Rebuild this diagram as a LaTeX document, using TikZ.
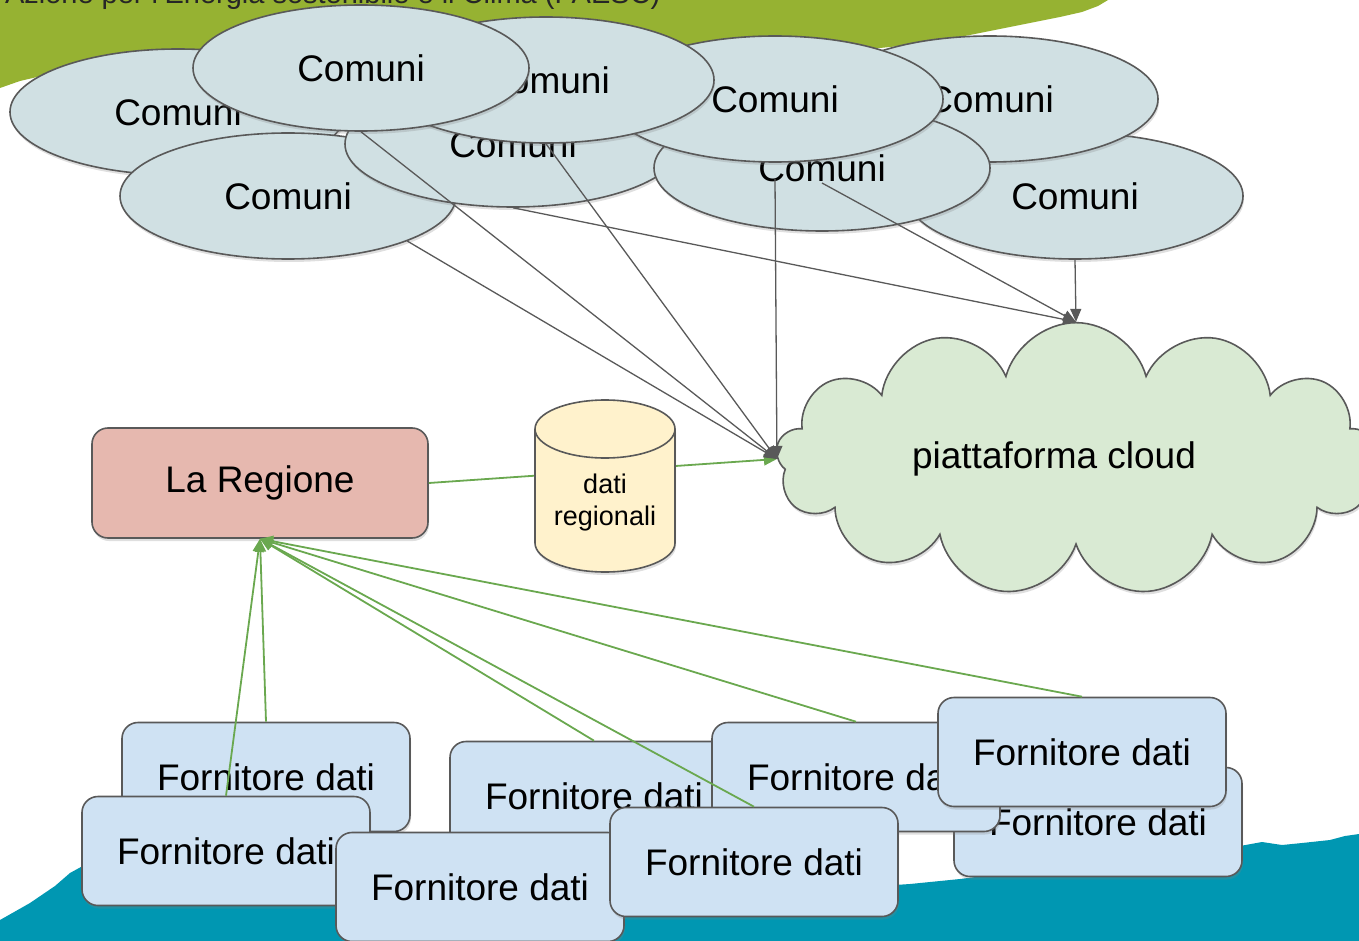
\documentclass[tikz,border=0pt]{standalone}
\usepackage{fontspec}
\setmainfont{Liberation Sans}
\usetikzlibrary{shapes.geometric,shapes.symbols,shadows,arrows.meta}
\definecolor{linegray}{HTML}{595959}
\definecolor{comunifill}{HTML}{D0E0E3}
\definecolor{cloudfill}{HTML}{D9EAD3}
\definecolor{regionefill}{HTML}{E6B8AF}
\definecolor{dbfill}{HTML}{FFF2CC}
\definecolor{fornfill}{HTML}{CFE2F3}
\definecolor{arrowgreen}{HTML}{6AA84F}
\definecolor{bggreen}{HTML}{96B232}
\definecolor{bgteal}{HTML}{0097B2}
\tikzset{
% Shapes: the comuni, the data suppliers, the region and the cloud
soft shadow/.style={drop shadow={shadow xshift=1pt,shadow yshift=-3pt,opacity=.25}},
comuni/.style={ellipse,draw=linegray,line width=1.6pt,fill=comunifill,minimum width=336pt,minimum height=126pt,inner sep=0,font=\fontsize{37}{44}\selectfont,soft shadow},
fornitore/.style={rectangle,rounded corners=16pt,draw=linegray,line width=1.6pt,fill=fornfill,minimum width=288pt,minimum height=109pt,font=\fontsize{37}{44}\selectfont,soft shadow},
regione/.style={rectangle,rounded corners=16pt,draw=linegray,line width=1.6pt,fill=regionefill,minimum width=336pt,minimum height=110pt,font=\fontsize{37}{44}\selectfont,soft shadow},
piattaforma/.style={cloud,cloud puffs=13,cloud puff arc=150,aspect=2.4,draw=linegray,line width=1.6pt,fill=cloudfill,minimum width=600pt,minimum height=222pt,inner sep=0,font=\fontsize{37}{44}\selectfont,soft shadow},
% Two connector styles: dark and green
dark arrow/.style={draw=linegray,line width=1.3pt,-{Triangle[length=13pt,width=11pt]}},
green arrow/.style={draw=arrowgreen,line width=1.8pt,-{Triangle[length=13pt,width=11pt]}}
}

\begin{document}
\begin{tikzpicture}[x=1pt,y=-1pt]
\useasboundingbox (0,0) rectangle (1359,941);
% Background
\fill[bggreen] (0,0) -- (1108,0) -- (1098,6) -- (1082,12) -- (1060,17) -- (1040,21) -- (1010,27)
  -- (985,32) -- (960,37) -- (920,44) -- (880,48) -- (800,56) -- (500,62) -- (200,64)
  -- (100,68) -- (50,74) -- (20,81) -- (0,88) -- cycle;
\fill[bgteal] (0,941) -- (0,920) -- (30,903) -- (55,886) -- (70,873) -- (90,862) -- (300,852)
  -- (600,862) -- (880,886) -- (910,884) -- (940,881) -- (960,879) -- (1100,861) -- (1200,851)
  -- (1240,846) -- (1262,842) -- (1282,845) -- (1302,843) -- (1330,840) -- (1345,836)
  -- (1359,834) -- (1359,941) -- cycle;
\node(titolo)[anchor=base east,font=\fontsize{29}{34}\selectfont,text=black!85] at (664,4)
  {Azione per l’Energia sostenibile e il Clima (PAESC)};
% The Comuni
\node(e1)[comuni] at (178,112) {Comuni};
\node(e9)[comuni] at (288,196) {Comuni};
\node(e4)[comuni] at (513,144) {Comuni};
\node(e8)[comuni] at (1075,196) {Comuni};
\node(e7)[comuni] at (990,99) {Comuni};
\node(e6)[comuni] at (822,168) {Comuni};
\node(e5)[comuni] at (775,99) {Comuni};
\node(e3)[comuni] at (546,80) {Comuni};
\node(e2)[comuni] at (361,68) {Comuni};
% The data suppliers
\node(f1)[fornitore] at (266,777) {Fornitore dati};
\node(f2)[fornitore] at (226,851) {Fornitore dati};
\node(f3)[fornitore] at (594,796) {Fornitore dati};
\node(f4)[fornitore] at (480,887) {Fornitore dati};
\node(f7)[fornitore] at (1098,822) {Fornitore dati};
\node(f5)[fornitore] at (856,777) {Fornitore dati};
\node(f6)[fornitore] at (754,862) {Fornitore dati};
\node(f8)[fornitore] at (1082,752) {Fornitore dati};
% Region and cloud
\node(regione)[regione] at (260,483) {La Regione};
\node(cloud)[piattaforma] at (1076,459) {piattaforma cloud\hspace*{44pt}};
\draw[green arrow] (regione.east) -- (cloud.west);
% The database, over the green line
\draw[linegray,line width=1.6pt,fill=dbfill,soft shadow] (535,429) -- (535,543)
  arc[start angle=180,end angle=0,x radius=70,y radius=29] -- (675,429)
  arc[start angle=0,end angle=-180,x radius=70,y radius=29] -- cycle;
\draw[linegray,line width=1.6pt] (535,429) arc[start angle=180,end angle=0,x radius=70,y radius=29];
\node(db)[font=\fontsize{27}{32}\selectfont,align=center] at (605,503) {dati\\regionali};
% Comuni to the cloud
\draw[dark arrow] (e9.south east) -- (cloud.west);
\draw[dark arrow] (e2.south) -- (cloud.west);
\draw[dark arrow] (e3.south) -- (cloud.west);
\draw[dark arrow] ([yshift=-16pt]e5.south) -- (cloud.west);
\draw[dark arrow] (e4.south) -- (cloud.north);
\draw[dark arrow] ([yshift=-15pt]e6.center) -- (cloud.north);
\draw[dark arrow] (e8.south) -- (cloud.north);
% Suppliers to the region
\foreach \f in {f1,f2,f3,f6,f5,f8}
  \draw[green arrow] (\f.north) -- (regione.south);
\end{tikzpicture}
\end{document}
